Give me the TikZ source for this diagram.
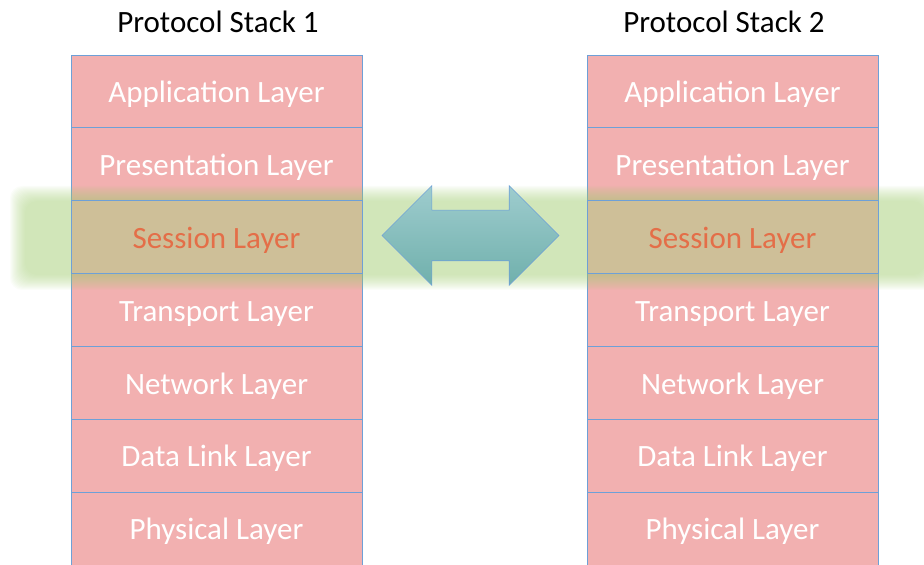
\documentclass[tikz,border=0pt]{standalone}
\usepackage{fontspec}
\setmainfont{Carlito}
\usepackage{tikz}
\usetikzlibrary{positioning}
\usetikzlibrary{shapes.arrows}
\definecolor{layerpink}{RGB}{242,176,176}
\definecolor{layerline}{RGB}{110,160,215}
\definecolor{bandgreen}{RGB}{168,208,124}
\definecolor{sessiontan}{RGB}{206,191,152}
\definecolor{sessiontext}{RGB}{228,110,72}
\definecolor{arrowtop}{RGB}{158,204,206}
\definecolor{arrowbottom}{RGB}{112,176,172}

\begin{document}
\begin{tikzpicture}[x=1pt,y=1pt,
    stacktitle/.style={font=\fontsize{31}{37}\selectfont, anchor=base, inner sep=0pt},
    stacklayer/.style={draw=layerline, line width=0.9pt, fill=layerpink, text=white,
      minimum width=291pt, minimum height=72.9pt, inner sep=0pt, outer sep=0pt,
      text height=22pt, text depth=0pt, font=\fontsize{31}{37}\selectfont},
    sessionlayer/.style={stacklayer, fill=sessiontan, text=sessiontext},
    link/.style={double arrow, double arrow head extend=24.5pt, minimum height=177pt,
      inner xsep=0pt, inner ysep=25pt, draw=layerline, line width=0.6pt,
      top color=arrowtop, bottom color=arrowbottom}]
  \useasboundingbox (0,0) rectangle (924,565);
  % stack 1
  \node[stacktitle] (title1) at (218,532) {Protocol Stack 1};
  \node[stacklayer] (app1) at (216.5,473.55) {Application Layer};
  \node[stacklayer, below=0pt of app1] (pres1) {Presentation Layer};
  \node[stacklayer, below=72.9pt of pres1] (trans1) {Transport Layer};
  \node[stacklayer, below=0pt of trans1] (net1) {Network Layer};
  \node[stacklayer, below=0pt of net1] (link1) {Data Link Layer};
  \node[stacklayer, below=0pt of link1] (phys1) {Physical Layer};
  % stack 2
  \node[stacktitle] (title2) at (724,532) {Protocol Stack 2};
  \node[stacklayer] (app2) at (732.5,473.55) {Application Layer};
  \node[stacklayer, below=0pt of app2] (pres2) {Presentation Layer};
  \node[stacklayer, below=72.9pt of pres2] (trans2) {Transport Layer};
  \node[stacklayer, below=0pt of trans2] (net2) {Network Layer};
  \node[stacklayer, below=0pt of net2] (link2) {Data Link Layer};
  \node[stacklayer, below=0pt of link2] (phys2) {Physical Layer};
  % session band, soft edges
  \foreach \i in {0,...,15}
    \fill[bandgreen, opacity=0.048, rounded corners=12pt] (10+\i,275+\i) rectangle (940-\i,379-\i);
  % session layers
  \node[sessionlayer, below=0pt of pres1] (sess1) {Session Layer};
  \node[sessionlayer, below=0pt of pres2] (sess2) {Session Layer};
  % peer arrow
  \node[link] (peer) at (470.5,329.5) {};
\end{tikzpicture}
\end{document}
